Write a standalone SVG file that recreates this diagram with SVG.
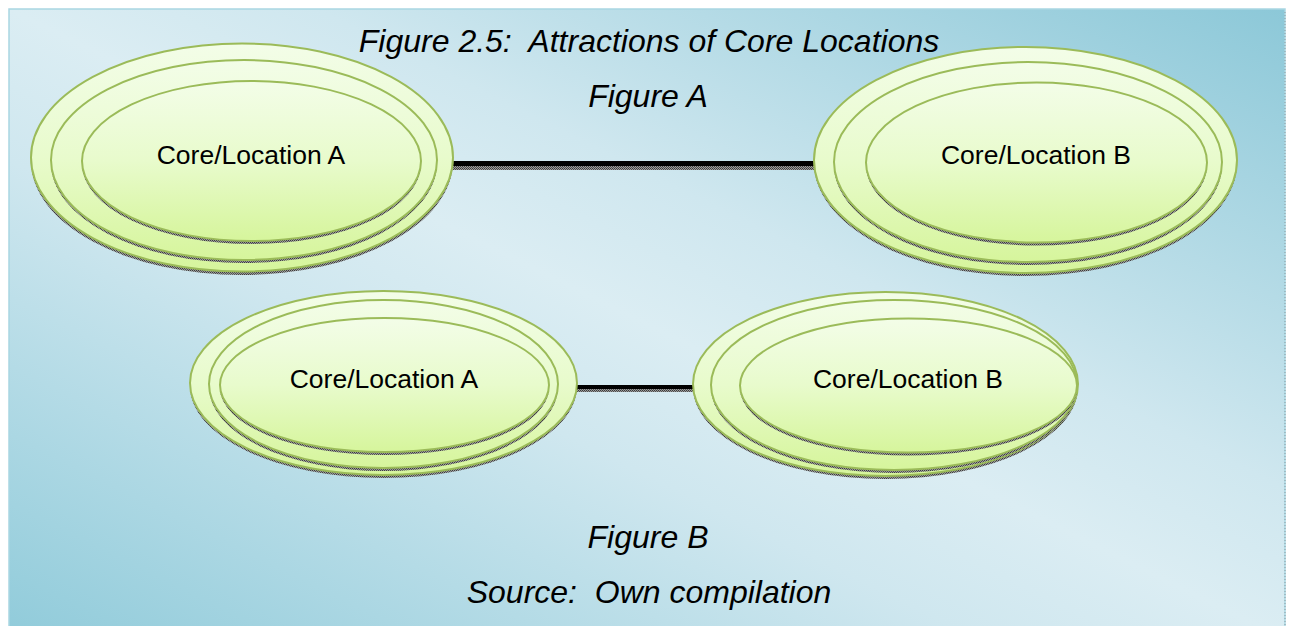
<svg xmlns="http://www.w3.org/2000/svg" width="1290" height="626" viewBox="0 0 1290 626">
  <defs>
    <linearGradient id="bg" x1="1" y1="0" x2="0" y2="1">
      <stop offset="0" stop-color="#8cc8d8"/>
      <stop offset="0.38" stop-color="#cfe7ef"/>
      <stop offset="0.5" stop-color="#dbedf3"/>
      <stop offset="0.62" stop-color="#cfe7ef"/>
      <stop offset="1" stop-color="#90cbda"/>
    </linearGradient>
    <linearGradient id="fillG" x1="0" y1="0" x2="0" y2="1">
      <stop offset="0" stop-color="#f3fde8"/>
      <stop offset="0.5" stop-color="#e8fbcc"/>
      <stop offset="1" stop-color="#d6f59c"/>
    </linearGradient>
    <pattern id="hatch" width="2" height="2" patternUnits="userSpaceOnUse">
      <rect width="2" height="2" fill="#9a9a9a"/>
      <rect width="1" height="1" fill="#3c3c3c"/>
      <rect x="1" y="1" width="1" height="1" fill="#505050"/>
    </pattern>
  </defs>
  <style>
    .ring { fill: url(#fillG); stroke: #9bbb59; stroke-width: 2; }
    .shadow { fill: url(#hatch); }
    .label { font-family: "Liberation Sans", Arial, sans-serif; font-size: 26.5px; fill: #000; text-anchor: middle; }
    .cap { font-family: "Liberation Sans", Arial, sans-serif; font-size: 32px; font-style: italic; fill: #000; text-anchor: middle; white-space: pre; }
  </style>

  <rect x="0" y="0" width="1290" height="626" fill="#ffffff"/>
  <rect x="9" y="9" width="1276" height="630" fill="url(#bg)" stroke="#a9d6e2" stroke-width="1.5"/>
  <line x1="1285" y1="12" x2="1285" y2="626" stroke="#8a9aa0" stroke-width="1" stroke-dasharray="1 2"/>

  <g id="captions">
    <text class="cap" x="649" y="52" xml:space="preserve">Figure 2.5:  Attractions of Core Locations</text>
    <text class="cap" x="648" y="107">Figure A</text>
    <text class="cap" x="648" y="548">Figure B</text>
    <text class="cap" x="649" y="603" xml:space="preserve">Source:  Own compilation</text>
  </g>

  <g id="connectors">
    <rect x="453" y="166" width="362" height="4" class="shadow"/>
    <line x1="453" y1="163.5" x2="815" y2="163.5" stroke="#000" stroke-width="5"/>
    <rect x="577" y="389" width="118" height="3" class="shadow"/>
    <line x1="577" y1="387" x2="695" y2="387" stroke="#000" stroke-width="4"/>
  </g>

  <g id="figA-locationA">
    <ellipse class="shadow" cx="242" cy="161" rx="211" ry="114"/>
    <ellipse class="ring" cx="242" cy="157.5" rx="211" ry="114"/>
    <ellipse class="shadow" cx="244" cy="163" rx="193" ry="100"/>
    <ellipse class="ring" cx="244" cy="160" rx="193" ry="100"/>
    <ellipse class="shadow" cx="251.5" cy="164" rx="169.5" ry="80"/>
    <ellipse class="ring" cx="251.5" cy="161" rx="169.5" ry="80"/>
    <text class="label" x="251" y="164">Core/Location A</text>
  </g>

  <g id="figA-locationB">
    <ellipse class="shadow" cx="1025.5" cy="163" rx="211.5" ry="113"/>
    <ellipse class="ring" cx="1025.5" cy="160" rx="211.5" ry="113"/>
    <ellipse class="shadow" cx="1028" cy="165" rx="194" ry="100"/>
    <ellipse class="ring" cx="1028" cy="162" rx="194" ry="100"/>
    <ellipse class="shadow" cx="1036.5" cy="165.5" rx="170.5" ry="80"/>
    <ellipse class="ring" cx="1036.5" cy="162.5" rx="170.5" ry="80"/>
    <text class="label" x="1036" y="164">Core/Location B</text>
  </g>

  <g id="figB-locationA">
    <ellipse class="shadow" cx="383.5" cy="386" rx="193.5" ry="92"/>
    <ellipse class="ring" cx="383.5" cy="383" rx="193.5" ry="92"/>
    <ellipse class="shadow" cx="383.5" cy="387" rx="174.5" ry="84"/>
    <ellipse class="ring" cx="383.5" cy="384" rx="174.5" ry="84"/>
    <ellipse class="shadow" cx="384.5" cy="388" rx="164.5" ry="67"/>
    <ellipse class="ring" cx="384.5" cy="385" rx="164.5" ry="67"/>
    <text class="label" x="384" y="388">Core/Location A</text>
  </g>

  <g id="figB-locationB">
    <ellipse class="shadow" cx="885.5" cy="387" rx="192.5" ry="92"/>
    <ellipse class="ring" cx="885.5" cy="384" rx="192.5" ry="92"/>
    <ellipse class="shadow" cx="894" cy="388" rx="183" ry="85"/>
    <ellipse class="ring" cx="894" cy="385" rx="183" ry="85"/>
    <ellipse class="shadow" cx="908.5" cy="388.5" rx="168.5" ry="67"/>
    <ellipse class="ring" cx="908.5" cy="385.5" rx="168.5" ry="67"/>
    <text class="label" x="908" y="388">Core/Location B</text>
  </g>
</svg>
